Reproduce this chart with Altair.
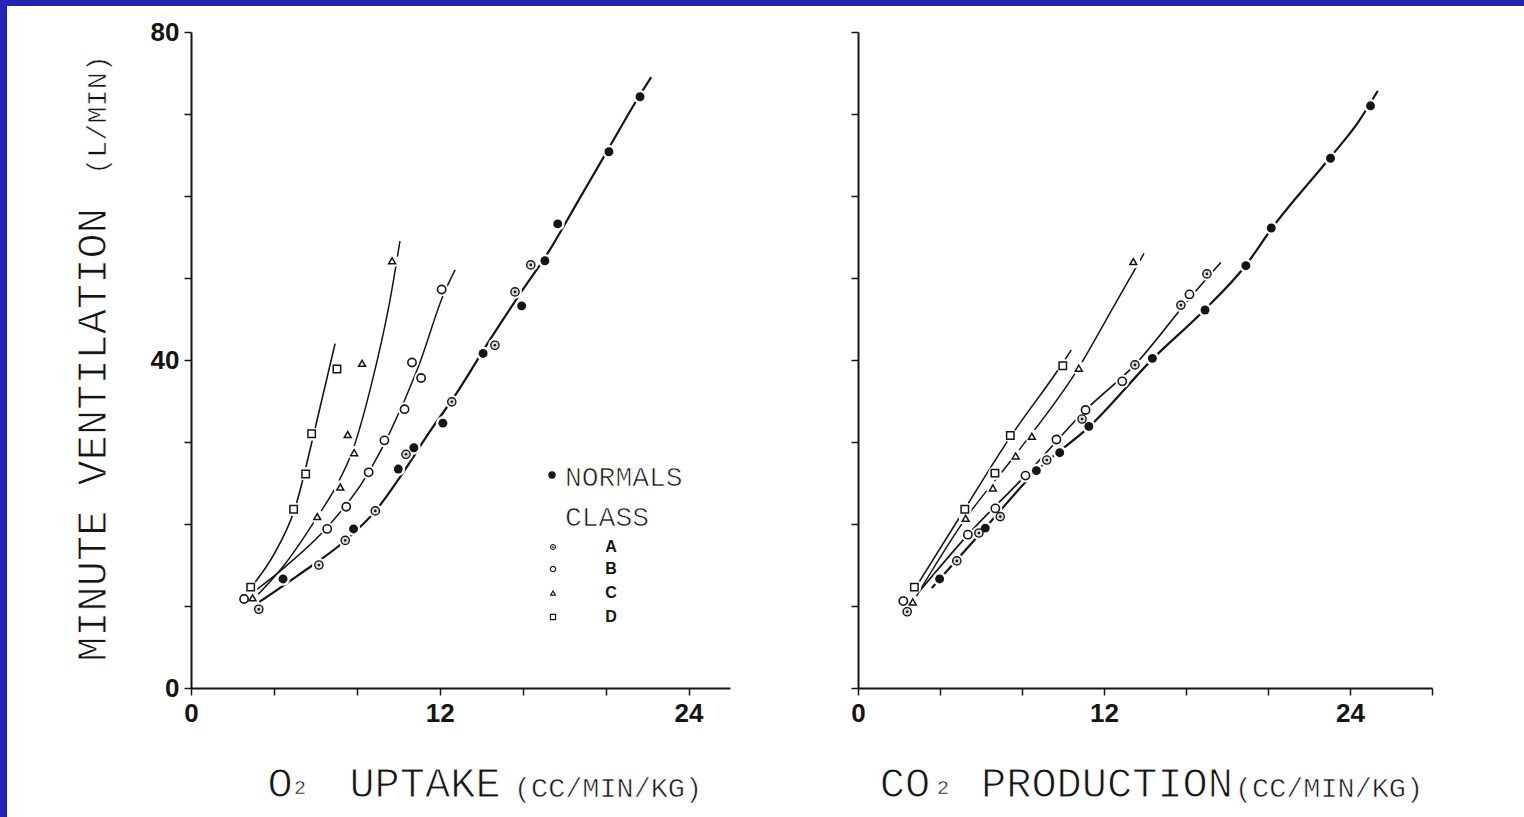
import altair as alt
import pandas as pd

# ---------------- data ----------------
# Left panel: O2 uptake (cc/min/kg) vs minute ventilation (L/min)
L_N_x = [4.44, 7.84, 10.0, 10.75, 12.15, 14.09, 15.95, 17.07, 17.69, 20.16, 21.66]
L_N_y = [13.3, 19.4, 26.7, 29.3, 32.3, 40.8, 46.6, 52.1, 56.6, 65.4, 72.1]
L_A_x = [3.27, 6.17, 7.44, 8.89, 10.37, 12.58, 14.66, 15.63, 16.39]
L_A_y = [9.6, 15.0, 18.0, 21.6, 28.5, 34.9, 41.8, 48.3, 51.6]
L_B_x = [2.56, 6.57, 7.49, 8.57, 9.33, 10.3, 10.66, 11.1, 12.09]
L_B_y = [10.85, 19.4, 22.1, 26.3, 30.2, 34.0, 39.7, 37.8, 48.6]
L_C_x = [2.97, 6.09, 7.2, 7.56, 7.87, 8.25, 9.7]
L_C_y = [11.0, 20.9, 24.5, 30.9, 28.7, 39.6, 52.1]
L_D_x = [2.88, 4.95, 5.53, 5.82, 7.04]
L_D_y = [12.3, 21.8, 26.1, 31.0, 38.9]

# fitted curves, left panel
LC_N_x = [3.3, 5.2, 7.4, 8.9, 10.05, 11.5, 12.9, 14.4, 15.8, 17.3, 18.7, 20.1, 21.6, 22.2]
LC_N_y = [10.5, 13.8, 17.9, 21.6, 25.6, 31.2, 36.3, 42.4, 47.8, 53.4, 59.5, 65.6, 72.1, 74.5]
LC_B_x = [2.8, 4.6, 6.57, 8.57, 9.6, 11.0, 12.2, 12.74]
LC_B_y = [11.3, 14.9, 19.6, 26.3, 31.2, 39.4, 48.1, 51.0]
LC_C_x = [3.0, 4.5, 6.1, 7.0, 7.8, 8.7, 9.6, 10.08]
LC_C_y = [10.8, 15.0, 20.9, 24.6, 29.0, 37.0, 47.3, 54.5]
LC_D_x = [3.0, 4.0, 5.0, 6.0, 6.95]
LC_D_y = [12.6, 16.3, 21.8, 31.8, 42.0]

# Right panel: CO2 production (cc/min/kg) vs minute ventilation (L/min)
R_N_x = [3.98, 6.21, 8.70, 9.84, 11.26, 14.36, 16.93, 18.92, 20.16, 23.05, 25.0]
R_N_y = [13.3, 19.5, 26.5, 28.7, 31.9, 40.2, 46.1, 51.5, 56.1, 64.6, 71.0]
R_A_x = [2.40, 4.82, 5.90, 6.94, 9.21, 10.93, 13.51, 15.75, 17.02]
R_A_y = [9.3, 15.5, 18.9, 20.9, 27.8, 32.8, 39.4, 46.7, 50.5]
R_B_x = [2.21, 5.36, 6.70, 8.17, 9.68, 11.1, 12.89, 16.17]
R_B_y = [10.6, 18.7, 21.9, 25.9, 30.3, 33.9, 37.4, 48.0]
R_C_x = [2.67, 5.25, 6.58, 7.69, 8.48, 10.77, 13.43]
R_C_y = [10.5, 20.7, 24.4, 28.3, 30.7, 39.0, 52.0]
R_D_x = [2.75, 5.21, 6.68, 7.43, 9.99]
R_D_y = [12.3, 21.8, 26.2, 30.8, 39.3]

RC_N_x = [3.6, 6.2, 8.7, 11.3, 14.4, 16.9, 18.9, 20.2, 23.0, 24.4, 25.35]
RC_N_y = [12.2, 19.5, 26.5, 31.9, 40.2, 46.1, 51.5, 56.1, 64.6, 69.0, 72.8]
RC_B_x = [3.0, 5.4, 8.2, 11.1, 13.5, 16.2, 17.7]
RC_B_y = [11.8, 18.8, 26.0, 33.9, 39.4, 47.6, 51.9]
RC_C_x = [2.8, 5.2, 7.7, 10.8, 12.4, 13.95]
RC_C_y = [11.0, 20.5, 28.5, 39.2, 46.2, 53.0]
RC_D_x = [3.0, 5.2, 7.4, 9.9, 10.4]
RC_D_y = [13.0, 21.8, 30.5, 39.3, 41.2]

Y_TICKS = [0, 10, 20, 30, 40, 50, 60, 70, 80]
L_X_TICKS = [0, 4, 8, 12, 16, 20, 24]
R_X_TICKS = [0, 4, 8, 12, 16, 20, 24, 28]

# ---------------- tables ----------------
def point_table(groups):
    rows = []
    for g, xs, ys in groups:
        for x, y in zip(xs, ys):
            rows.append({"g": g, "x": x, "y": y})
    return pd.DataFrame(rows)


def line_table(groups):
    rows = []
    for g, xs, ys, w in groups:
        for i, (x, y) in enumerate(zip(xs, ys)):
            rows.append({"g": g, "i": i, "x": x, "y": y, "w": w})
    return pd.DataFrame(rows)


left_pts = point_table([("N", L_N_x, L_N_y), ("A", L_A_x, L_A_y), ("B", L_B_x, L_B_y),
                        ("C", L_C_x, L_C_y), ("D", L_D_x, L_D_y)])
right_pts = point_table([("N", R_N_x, R_N_y), ("A", R_A_x, R_A_y), ("B", R_B_x, R_B_y),
                         ("C", R_C_x, R_C_y), ("D", R_D_x, R_D_y)])
left_lines = line_table([("N", LC_N_x, LC_N_y, 2.2), ("B", LC_B_x, LC_B_y, 1.5),
                         ("C", LC_C_x, LC_C_y, 1.5), ("D", LC_D_x, LC_D_y, 1.6)])
right_lines = line_table([("N", RC_N_x, RC_N_y, 2.2), ("B", RC_B_x, RC_B_y, 1.7),
                          ("C", RC_C_x, RC_C_y, 1.5), ("D", RC_D_x, RC_D_y, 1.6)])

BLUE = "#2424B4"
TFONT = "Liberation Mono"
LFONT = "Liberation Sans"
INK = "#151515"
one = pd.DataFrame({"k": [1]})


def enc_x(xmax, ticks):
    return alt.X("x:Q", title=None,
                 scale=alt.Scale(domain=[0, xmax], nice=False, zero=False),
                 axis=alt.Axis(values=ticks, labelFlush=False,
                               labelExpr="datum.value % 12 === 0 ? datum.label : ''"))


def enc_y(show):
    if show:
        ax = alt.Axis(values=Y_TICKS, labelFlush=False,
                      labelExpr="datum.value % 40 === 0 ? datum.label : ''")
    else:
        ax = alt.Axis(values=Y_TICKS, labels=False)
    return alt.Y("y:Q", title=None, scale=alt.Scale(domain=[0, 80], nice=False, zero=False), axis=ax)


def text(t, x, y, size, angle=0, align="center", font=TFONT, weight="normal",
         baseline="alphabetic", thin=0.0):
    kw = dict(text=t, font=font, fontSize=size, fontWeight=weight, angle=angle,
              align=align, baseline=baseline, color=INK)
    if thin > 0:
        kw.update(stroke="white", strokeWidth=thin)
    return alt.Chart(one).mark_text(**kw).encode(x=alt.value(x), y=alt.value(y))


def panel(pts, lines, xmax, ticks, show_y):
    X = enc_x(xmax, ticks)
    Y = enc_y(show_y)
    lay = []
    lay.append(alt.Chart(lines).mark_line(color=INK, interpolate="monotone").encode(
        x=X, y=Y, detail="g:N", order="i:Q",
        strokeWidth=alt.StrokeWidth("w:Q", scale=None)))
    # white halos that break the curves around each marker
    lay.append(alt.Chart(pts).mark_point(shape="circle", filled=True, color="white",
                                         size=190, opacity=1).encode(x=X, y=Y))
    flt = lambda g: alt.datum.g == g
    lay.append(alt.Chart(pts).transform_filter(flt("N")).mark_point(
        shape="circle", filled=True, color=INK, size=80, opacity=1).encode(x=X, y=Y))
    lay.append(alt.Chart(pts).transform_filter(flt("A")).mark_point(
        shape="circle", fill="#dcdcdc", stroke=INK, strokeWidth=1.4, size=68, opacity=1).encode(x=X, y=Y))
    lay.append(alt.Chart(pts).transform_filter(flt("A")).mark_point(
        shape="circle", filled=True, color=INK, size=7, opacity=1).encode(x=X, y=Y))
    lay.append(alt.Chart(pts).transform_filter(flt("B")).mark_point(
        shape="circle", fill="white", stroke=INK, strokeWidth=1.6, size=68, opacity=1).encode(x=X, y=Y))
    lay.append(alt.Chart(pts).transform_filter(flt("C")).mark_point(
        shape="triangle-up", fill="white", stroke=INK, strokeWidth=1.5, size=48, opacity=1).encode(x=X, y=Y))
    lay.append(alt.Chart(pts).transform_filter(flt("D")).mark_point(
        shape="square", fill="white", stroke=INK, strokeWidth=1.5, size=55, opacity=1).encode(x=X, y=Y))
    return lay


# ---------------- left panel ----------------
frame = [
    # invisible box fixing the page extent, blue frame strips
    alt.Chart(one).mark_rect(opacity=0).encode(x=alt.value(-191), x2=alt.value(1333),
                                               y=alt.value(-32), y2=alt.value(785)),
    alt.Chart(one).mark_rect(color=BLUE).encode(x=alt.value(-191), x2=alt.value(1333),
                                                y=alt.value(-32), y2=alt.value(-26)),
    alt.Chart(one).mark_rect(color=BLUE).encode(x=alt.value(-191), x2=alt.value(-184),
                                                y=alt.value(-32), y2=alt.value(785)),
]

legend = [
    alt.Chart(one).mark_point(shape="circle", filled=True, color=INK, size=55, opacity=1).encode(
        x=alt.value(361), y=alt.value(443)),
    text("NORMALS", 374, 454, 28, align="left", thin=0.7),
    text("CLASS", 374, 494, 28, align="left", thin=0.7),
    alt.Chart(one).mark_point(shape="circle", fill="#dcdcdc", stroke=INK, strokeWidth=1, size=26, opacity=1).encode(
        x=alt.value(362), y=alt.value(515)),
    alt.Chart(one).mark_point(shape="circle", filled=True, color=INK, size=3, opacity=1).encode(
        x=alt.value(362), y=alt.value(515)),
    alt.Chart(one).mark_point(shape="circle", fill="white", stroke=INK, strokeWidth=1.2, size=28, opacity=1).encode(
        x=alt.value(362), y=alt.value(537)),
    alt.Chart(one).mark_point(shape="triangle-up", fill="white", stroke=INK, strokeWidth=1.2, size=22, opacity=1).encode(
        x=alt.value(362), y=alt.value(561)),
    alt.Chart(one).mark_point(shape="square", fill="white", stroke=INK, strokeWidth=1.2, size=26, opacity=1).encode(
        x=alt.value(362), y=alt.value(585)),
    text("A", 420, 520, 16, font=LFONT, weight="bold"),
    text("B", 420, 542, 16, font=LFONT, weight="bold"),
    text("C", 420, 566, 16, font=LFONT, weight="bold"),
    text("D", 420, 590, 16, font=LFONT, weight="bold"),
]

left_titles = [
    text("MINUTE VENTILATION", -85, 403, 42, angle=270, thin=1.0),
    text("(L/MIN)", -85, 83, 28.5, angle=270, thin=0.6),
    text("O", 89, 765, 42, thin=1.0),
    text("2", 109, 762, 20, thin=0.4),
    text("UPTAKE", 234, 765, 42, thin=1.0),
    text("(CC/MIN/KG)", 417, 765, 28.5, thin=0.6),
]

left = alt.layer(*(frame + panel(left_pts, left_lines, 26, L_X_TICKS, True) + legend + left_titles)
                 ).properties(width=539, height=656)

# ---------------- right panel ----------------
right_titles = [
    text("CO", 47, 765, 42, thin=1.0),
    text("2", 85, 762, 20, thin=0.4),
    text("PRODUCTION", 249, 765, 42, thin=1.0),
    text("(CC/MIN/KG)", 471, 765, 28.5, thin=0.6),
]

right = alt.layer(*(panel(right_pts, right_lines, 28, R_X_TICKS, False) + right_titles)
                  ).properties(width=574, height=656)

chart = alt.hconcat(left, right, spacing=128, bounds="flush").properties(
    padding=0, background="white"
).configure_axis(
    domainColor=INK, domainWidth=2, tickColor=INK, tickWidth=1.5, tickSize=7,
    labelFont=LFONT, labelFontWeight="bold", labelFontSize=26, labelColor=INK,
    labelPadding=5, grid=False
).configure_view(strokeWidth=0)

chart.save("out.html", embed_options={"renderer": "svg", "actions": False})
